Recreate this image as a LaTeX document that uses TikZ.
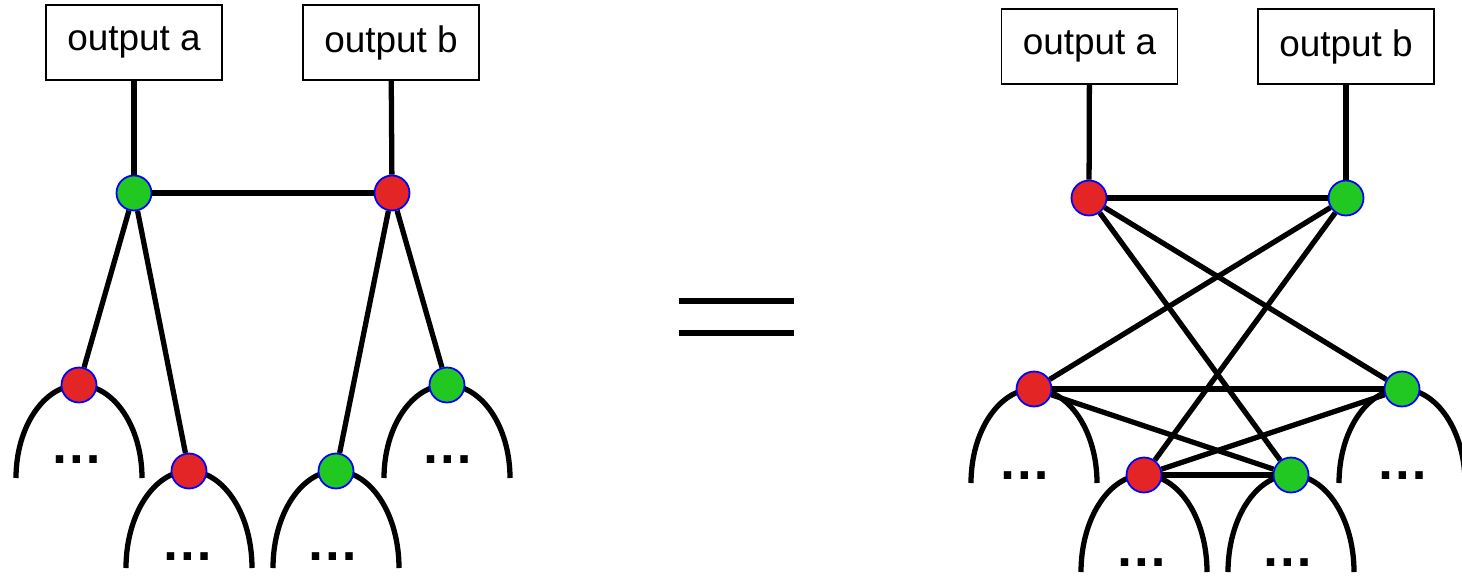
\documentclass[tikz,border=0pt]{standalone}
\usepackage{fontspec}
\setmainfont{Liberation Sans}
\usepackage{tikz}
\usetikzlibrary{positioning, backgrounds}

\definecolor{vred}{HTML}{E32526}
\definecolor{vgreen}{HTML}{22C822}

\begin{document}
\begin{tikzpicture}[
  x=0.02cm, y=0.02cm,
  every node/.style = {font=\fontsize{21}{25}\selectfont},
  outbox/.style = {draw, line width=0.8pt, minimum width=3.52cm,
                   minimum height=1.5cm, inner sep=0pt},
  vert/.style   = {circle, draw=blue, line width=1pt,
                   minimum size=0.7cm, inner sep=0pt},
  rv/.style     = {vert, fill=vred},
  gv/.style     = {vert, fill=vgreen},
  edge/.style   = {line width=3pt},
  more/.style   = {inner sep=0pt, font=\fontsize{30}{30}\selectfont\bfseries},
  eqbar/.style  = {line width=3.4pt}
]
\useasboundingbox (0,0) rectangle (1462,-575);

% left tree
\node[outbox] (oa) at (134,-42.5) {output a};
\node[outbox] (ob) at (391,-42.5) {output b};
\node[gv] (ta) at (134,-193) {};
\node[rv] (tb) at (392,-193) {};
\node[rv] (la) at (79,-385)  {};
\node[rv] (lb) at (189,-471) {};
\node[gv] (lc) at (336,-471) {};
\node[gv] (ld) at (447,-385) {};

\node[more] (da) at (77,-460)  {…};
\node[more] (db) at (188,-557) {…};
\node[more] (dc) at (333,-557) {…};
\node[more] (dd) at (448,-460) {…};

\draw[edge] (oa) -- (ta);
\draw[edge] (ob) -- (tb);
\draw[edge] (ta) -- (tb);
\draw[edge] (ta) -- (la);
\draw[edge] (ta) -- (lb);
\draw[edge] (tb) -- (lc);
\draw[edge] (tb) -- (ld);

% right graph
\node[outbox] (pa) at (1089.5,-46.5) {output a};
\node[outbox] (pb) at (1346,-46.5)   {output b};
\node[rv] (ra) at (1089,-198) {};
\node[gv] (rb) at (1346,-198) {};
\node[rv] (rc) at (1034,-389) {};
\node[gv] (rd) at (1402,-389) {};
\node[rv] (re) at (1144,-475) {};
\node[gv] (rf) at (1291,-475) {};

\node[more] (de) at (1025,-476) {…};
\node[more] (df) at (1403,-476) {…};
\node[more] (dg) at (1142,-563) {…};
\node[more] (dh) at (1288,-563) {…};

\draw[edge] (pa) -- (ra);
\draw[edge] (pb) -- (rb);
\foreach \r in {ra, rc, re}
  \foreach \g in {rb, rd, rf}
    \draw[edge] (\r) -- (\g);

% subtrees under the lower vertices
\begin{scope}[on background layer]
  \foreach \v/\h in {la/93, lb/97, lc/97, ld/93, rc/94, rd/94, re/97, rf/97}
    \draw[edge] (\v.center) ++(-63,-\h)
      arc[start angle=180, end angle=0, x radius=63, y radius=\h];
\end{scope}

% equals sign
\draw[eqbar] (679,-301) -- (794,-301);
\draw[eqbar] (679,-333) -- (794,-333);

\end{tikzpicture}
\end{document}
